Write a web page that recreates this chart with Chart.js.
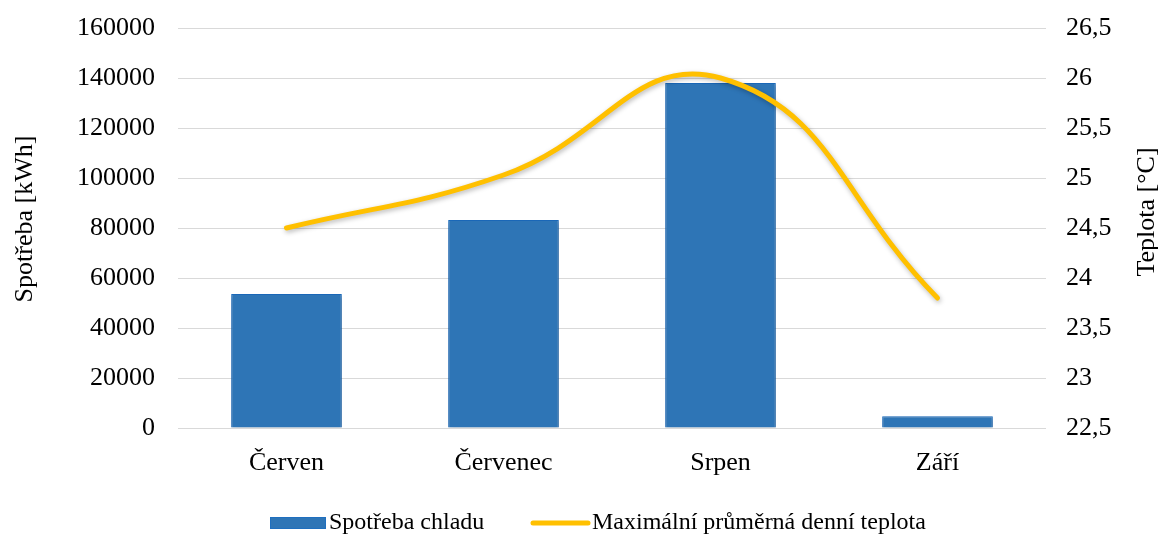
<!DOCTYPE html>
<html>
<head>
<meta charset="utf-8">
<script src="https://cdn.jsdelivr.net/npm/chart.js@4"></script>
<style>
  html, body { margin: 0; padding: 0; background: #fff; }
  #wrap { width: 1158px; height: 536px; }
</style>
</head>
<body>
<div id="wrap"><canvas id="graf"></canvas></div>
<script>
// data
const mesice = ['Červen', 'Červenec', 'Srpen', 'Září'];
const spotreba = [53600, 83200, 138000, 4700];
const teplota = [24.5, 25.03, 26.0, 23.8];
const ticksSpotreba = [0, 20000, 40000, 60000, 80000, 100000, 120000, 140000, 160000];
const ticksTeplota = [22.5, 23, 23.5, 24, 24.5, 25, 25.5, 26, 26.5];

const FONT = '"Liberation Serif", "Times New Roman", serif';
const MODRA = '#2E75B6';
const ZLUTA = '#FFC000';

// shadow behind bars / line
const stinPlugin = {
    id: 'stin',
    beforeDatasetDraw(chart) {
        const ctx = chart.ctx;
        ctx.save();
        ctx.shadowColor = 'rgba(0,0,0,0.28)';
        ctx.shadowBlur = 5;
        ctx.shadowOffsetX = 1;
        ctx.shadowOffsetY = 2;
    },
    afterDatasetDraw(chart) {
        chart.ctx.restore();
    }
};

// axis titles (both read bottom -> top) and legend
const popiskyPlugin = {
    id: 'popisky',
    afterDraw(chart) {
        const ctx = chart.ctx;
        ctx.save();
        ctx.fillStyle = '#000';
        ctx.font = '26px ' + FONT;
        ctx.textAlign = 'center';
        ctx.textBaseline = 'middle';

        [['Spotřeba [kWh]', 25, 219], ['Teplota [°C]', 1147, 212]].forEach(([txt, x, y]) => {
            ctx.save();
            ctx.translate(x, y);
            ctx.rotate(-Math.PI / 2);
            ctx.fillText(txt, 0, 0);
            ctx.restore();
        });

        // legend
        const ds = chart.data.datasets;
        ctx.font = '24px ' + FONT;
        ctx.textAlign = 'left';
        const yL = 523;
        // bar swatch
        ctx.fillStyle = MODRA;
        ctx.fillRect(270, yL - 6, 56, 12);
        ctx.strokeStyle = '#1F6FBF';
        ctx.lineWidth = 1;
        ctx.strokeRect(270.5, yL - 5.5, 55, 11);
        ctx.fillStyle = '#000';
        ctx.fillText(ds[0].label, 329, yL);
        // line swatch
        ctx.strokeStyle = ZLUTA;
        ctx.lineWidth = 5;
        ctx.lineCap = 'round';
        ctx.beginPath();
        ctx.moveTo(533, yL);
        ctx.lineTo(588, yL);
        ctx.stroke();
        ctx.fillText(ds[1].label, 592, yL);
        ctx.restore();
    }
};

new Chart(document.getElementById('graf'), {
    data: {
        labels: mesice,
        datasets: [
            {
                type: 'bar',
                label: 'Spotřeba chladu',
                data: spotreba,
                yAxisID: 'y',
                backgroundColor: MODRA,
                borderColor: '#1C6DC0',
                borderWidth: 1,
                categoryPercentage: 1,
                barPercentage: 0.51,
                order: 1
            },
            {
                type: 'line',
                label: 'Maximální průměrná denní teplota',
                data: teplota,
                yAxisID: 'y1',
                borderColor: ZLUTA,
                borderWidth: 5,
                borderCapStyle: 'round',
                pointRadius: 0,
                tension: 0.45,
                fill: false,
                order: 0
            }
        ]
    },
    options: {
        responsive: true,
        maintainAspectRatio: false,
        animation: false,
        layout: { padding: { top: 28, left: 0, right: 0, bottom: 0 } },
        plugins: {
            legend: { display: false },
            tooltip: { enabled: false }
        },
        scales: {
            x: {
                grid: { display: false, drawTicks: false },
                border: { display: false },
                ticks: { color: '#000', font: { family: FONT, size: 26 }, padding: 20, maxRotation: 0 },
                afterFit: s => { s.height = 108; }
            },
            y: {
                position: 'left',
                min: 0,
                max: 160000,
                afterBuildTicks: s => { s.ticks = ticksSpotreba.map(v => ({ value: v })); },
                grid: { color: '#D9D9D9', lineWidth: 1, drawTicks: false },
                border: { display: false },
                ticks: {
                    color: '#000',
                    font: { family: FONT, size: 26 },
                    padding: 23,
                    callback: v => String(v)
                },
                afterFit: s => { s.width = 178; s.paddingTop = 0; s.paddingBottom = 0; }
            },
            y1: {
                position: 'right',
                min: 22.5,
                max: 26.5,
                afterBuildTicks: s => { s.ticks = ticksTeplota.map(v => ({ value: v })); },
                grid: { display: false, drawTicks: false },
                border: { display: false },
                ticks: {
                    color: '#000',
                    font: { family: FONT, size: 26 },
                    padding: 20,
                    callback: v => String(v).replace('.', ',')
                },
                afterFit: s => { s.width = 112; s.paddingTop = 0; s.paddingBottom = 0; }
            }
        }
    },
    plugins: [stinPlugin, popiskyPlugin]
});
</script>
</body>
</html>
